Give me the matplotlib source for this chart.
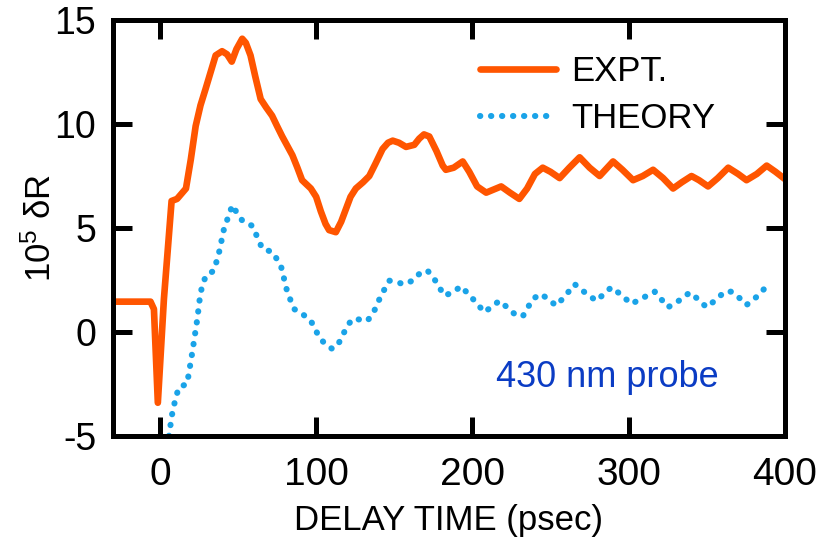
import numpy as np
import matplotlib
matplotlib.use("Agg")
import matplotlib.pyplot as plt

plt.rcParams['font.family'] = ['Liberation Sans', 'DejaVu Sans']
plt.rcParams['mathtext.fontset'] = 'custom'
plt.rcParams['mathtext.rm'] = 'Liberation Sans'
plt.rcParams['axes.unicode_minus'] = False

expt_t = [-30, -6, -3.8, -1.3, 2.6, 7.5, 11, 16.7, 19.8, 22.9, 26, 29.3, 32.5, 35.7,
          39.8, 43, 46, 49, 52.7, 55, 58, 61, 64.5, 68, 71.8, 75, 78.3, 84.8, 88,
          91, 96.6, 100, 103, 106, 108.3, 112.6, 116, 119, 122, 125.4, 130, 134,
          138, 142.5, 146, 149, 153, 157.5, 162.8, 166, 169, 172.4, 177, 181, 183,
          188, 193.8, 198, 203, 208.8, 218.4, 224, 230, 235, 240, 245, 250, 255.8,
          262, 268.6, 275, 281.4, 290, 296, 302.8, 309, 315.6, 322, 328.4, 334,
          340.2, 345, 350.8, 357, 363.7, 370, 375.4, 382, 388.3, 394, 400]
expt_r = [1.46, 1.46, 1.1, -3.4, 1.6, 6.3, 6.4, 6.9, 8.3, 9.9, 10.9, 11.7, 12.5, 13.3,
          13.5, 13.35, 13.0, 13.6, 14.1, 13.9, 13.3, 12.3, 11.2, 10.8, 10.4, 9.9, 9.4,
          8.5, 7.9, 7.3, 6.9, 6.5, 5.8, 5.2, 4.9, 4.8, 5.3, 5.9, 6.5, 6.9, 7.2, 7.5,
          8.1, 8.8, 9.1, 9.2, 9.1, 8.9, 9.0, 9.3, 9.5, 9.4, 8.7, 8.0, 7.8, 7.9, 8.2,
          7.7, 7.0, 6.7, 7.0, 6.7, 6.4, 6.9, 7.6, 7.9, 7.7, 7.4, 7.9, 8.4, 7.9, 7.5,
          8.2, 7.8, 7.3, 7.5, 7.8, 7.4, 6.9, 7.2, 7.5, 7.3, 7.0, 7.4, 7.9, 7.6, 7.3,
          7.6, 8.0, 7.7, 7.35]

# theory
theo_t = [5.8, 7.7, 10, 12.2, 17.4, 20.7, 23.9, 26, 29.3, 34.6, 37.8, 41, 46.4, 49.5,
          52.8, 59.2, 65.6, 72, 77.4, 81.6, 86, 91.2, 96.6, 102, 106, 110.5, 114.7,
          120, 123.3, 128, 132.9, 137.2, 141.5, 146.8, 151, 156.4, 161.7, 167, 171.3,
          175.6, 182, 187.4, 192.7, 200.2, 207.7, 212, 217.3, 222, 226.9, 232.2,
          238.7, 244, 248, 253.6, 259, 265.4, 272, 279.3, 288.9, 295, 301.7, 308,
          316.7, 325.2, 332, 339.1, 344, 349.8, 355, 361.5, 365.8, 370, 375.4, 382,
          388.3]
theo_r = [-5.0, -4.0, -3.2, -2.65, -2.5, -1.0, 0.6, 1.9, 2.7, 2.95, 3.8, 4.95, 6.1, 5.7,
          5.35, 5.1, 4.0, 3.85, 3.2, 1.9, 1.1, 0.87, 0.54, -0.25, -0.6, -0.82, -0.5,
          0.3, 0.63, 0.6, 0.54, 1.02, 1.75, 2.47, 2.4, 2.3, 2.47, 2.87, 2.95, 2.55,
          1.75, 1.9, 2.2, 1.6, 0.95, 1.2, 1.5, 1.2, 0.87, 0.75, 1.6, 1.83, 1.6, 1.27,
          1.7, 2.3, 1.9, 1.5, 2.15, 1.8, 1.35, 1.6, 1.94, 1.19, 1.5, 1.9, 1.6, 1.19,
          1.5, 1.94, 1.94, 1.7, 1.3, 1.7, 2.2]

xticks = [0, 100, 200, 300, 400]
yticks = [-5, 0, 5, 10, 15]

fig = plt.figure(figsize=(8.17, 5.47), dpi=100)
ax = fig.add_axes([0.1383, 0.2029, 0.8225, 0.7605])

ax.plot(expt_t, expt_r, color='#ff5500', lw=4.8, solid_joinstyle='round',
        solid_capstyle='round', label='EXPT.')
ax.plot(theo_t, theo_r, color='#1aa3e8', lw=4.4, linestyle=(0, (0.05, 1.75)),
        dash_capstyle='round', label='THEORY')

ax.set_xlim(-30, 400)
ax.set_ylim(-5, 15)
ax.set_xticks(xticks)
ax.set_yticks(yticks)
ax.tick_params(axis='x', labelsize=28, pad=15)
ax.tick_params(axis='y', labelsize=27, pad=12)
ax.tick_params(direction='in', length=14, width=3.6, top=True, right=True)
for s in ax.spines.values():
    s.set_linewidth(3.6)

ax.set_xlabel('DELAY TIME (psec)', fontsize=25, labelpad=8)
ax.set_ylabel(r'$\mathregular{10^5}$ δR', fontsize=25, labelpad=-2)

ax.text(215, -2.2, '430 nm probe', color='#0b3cc4', fontsize=26, va='center')

ax.legend(loc='upper left', bbox_to_anchor=(0.546, 0.915), frameon=False,
          fontsize=25, handlelength=2.2, handletextpad=0.43, borderpad=0,
          borderaxespad=0, labelspacing=0.4)

fig.savefig('out.png', dpi=100)
